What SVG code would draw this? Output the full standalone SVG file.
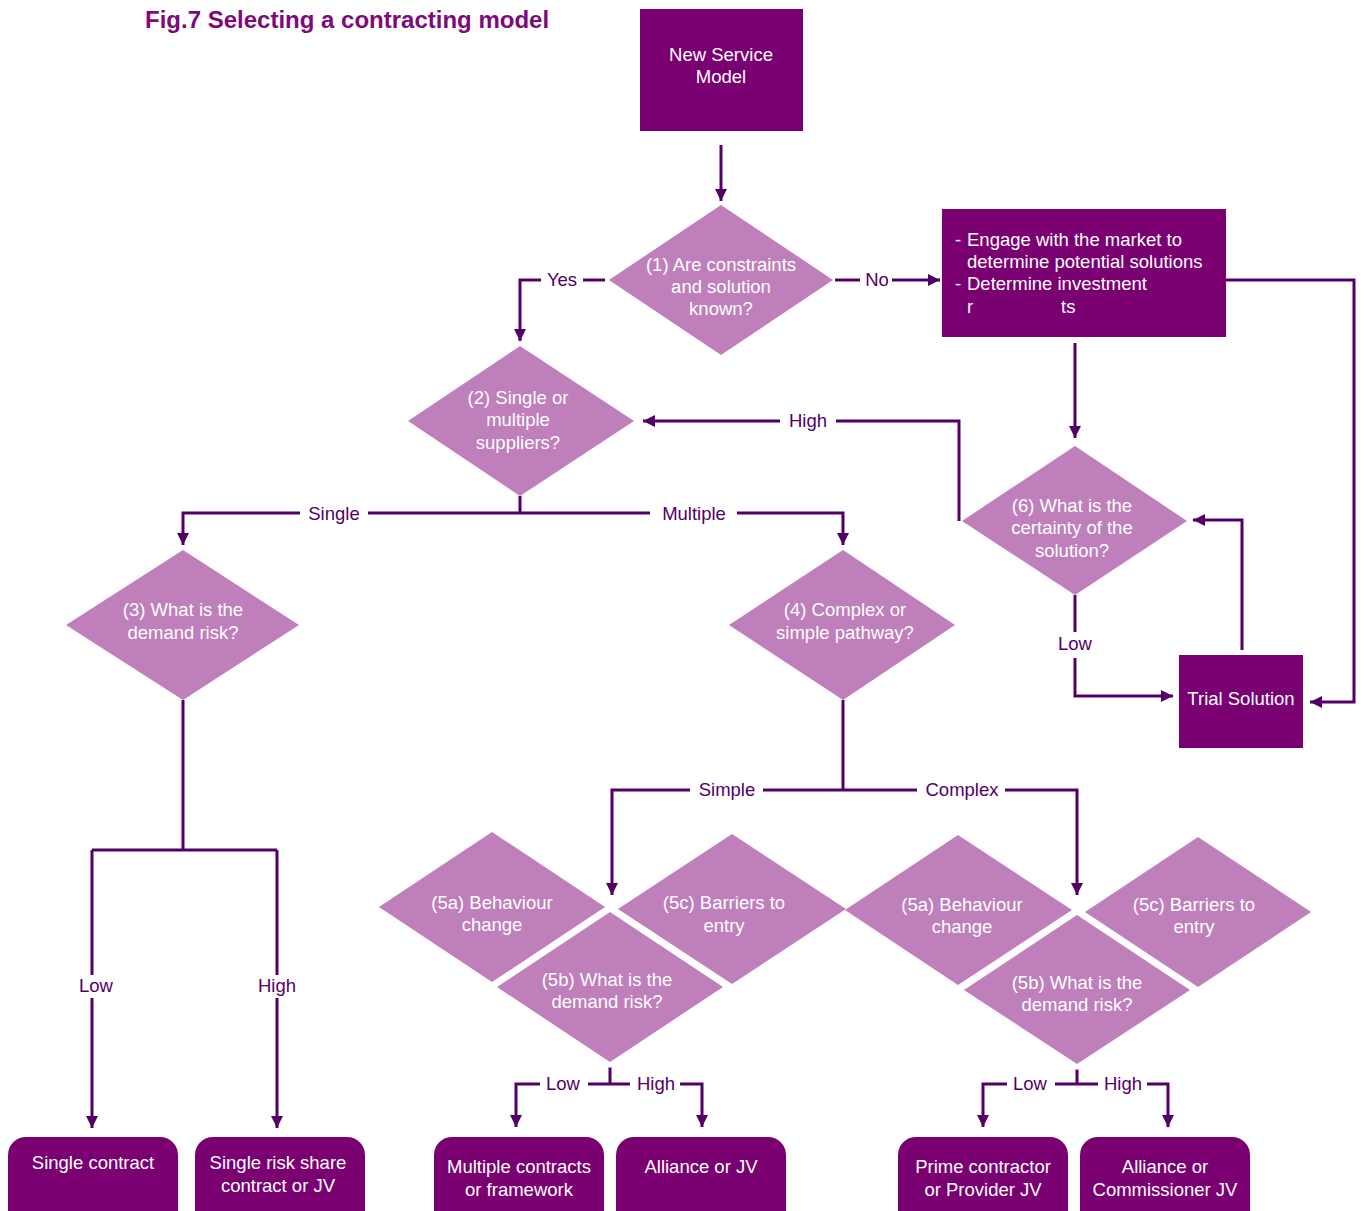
<svg xmlns="http://www.w3.org/2000/svg" width="1364" height="1211" viewBox="0 0 1364 1211">
  <style>
    text { font-family: "Liberation Sans", Arial, sans-serif; font-size: 18.5px; }
    .title { font-size: 24px; font-weight: bold; fill: #7D0A78; }
    .box { fill: #7A0072; }
    .dia { fill: #BE7FBA; }
    .dia-front { fill: #BE7FBA; stroke: #FFFFFF; stroke-width: 10; paint-order: stroke; stroke-linejoin: miter; }
    .wt { fill: #FFFFFF; text-anchor: middle; }
    .wl { fill: #FFFFFF; }
    .lbl { fill: #520066; text-anchor: middle; }
    .ln { fill: none; stroke: #520066; stroke-width: 3; }
    .arr { fill: none; stroke: #520066; stroke-width: 3; marker-end: url(#head); }
  </style>
  <defs>
    <marker id="head" viewBox="0 0 10 10" refX="10" refY="5" markerWidth="15" markerHeight="12" markerUnits="userSpaceOnUse" orient="auto">
      <path d="M0,0 L10,5 L0,10 z" fill="#520066"/>
    </marker>
  </defs>

  <rect width="1364" height="1211" fill="#FFFFFF"/>

  <text class="title" x="145" y="28">Fig.7 Selecting a contracting model</text>

  <!-- connectors -->
  <g id="connectors">
    <path class="arr" d="M721,145 V201"/>
    <!-- Yes / No from question 1 -->
    <path class="ln" d="M605,280 H583"/>
    <path class="arr" d="M541,280 H520 V341"/>
    <path class="ln" d="M835,280 H860"/>
    <path class="arr" d="M892,280 H940"/>
    <!-- market engagement box -->
    <path class="arr" d="M1075,343 V438"/>
    <path class="arr" d="M1226,280 H1354 V702 H1310"/>
    <!-- certainty question -->
    <path class="ln" d="M959,521 V421 H836"/>
    <path class="arr" d="M780,421 H643"/>
    <path class="ln" d="M1075,595 V632"/>
    <path class="arr" d="M1075,658 V696 H1173"/>
    <path class="arr" d="M1242,650 V520 H1193"/>
    <!-- single / multiple -->
    <path class="ln" d="M520,496 V513"/>
    <path class="arr" d="M300,513 H183 V545"/>
    <path class="ln" d="M368,513 H650"/>
    <path class="arr" d="M737,513 H843 V545"/>
    <!-- demand risk (3) -->
    <path class="ln" d="M183,700 V850 M92,850 H277"/>
    <path class="ln" d="M92,850 V975"/>
    <path class="arr" d="M92,998 V1128"/>
    <path class="ln" d="M277,850 V975"/>
    <path class="arr" d="M277,998 V1128"/>
    <!-- simple / complex -->
    <path class="ln" d="M843,700 V790"/>
    <path class="arr" d="M690,790 H612 V895"/>
    <path class="ln" d="M763,790 H917"/>
    <path class="arr" d="M1005,790 H1077 V895"/>
    <!-- simple pathway outcomes -->
    <path class="ln" d="M610,1062 V1084"/>
    <path class="arr" d="M540,1084 H516 V1127"/>
    <path class="ln" d="M588,1084 H630"/>
    <path class="arr" d="M680,1084 H702 V1127"/>
    <!-- complex pathway outcomes -->
    <path class="ln" d="M1077,1063 V1084"/>
    <path class="arr" d="M1007,1084 H983 V1127"/>
    <path class="ln" d="M1055,1084 H1098"/>
    <path class="arr" d="M1147,1084 H1168 V1127"/>

    <text class="lbl" x="562" y="286">Yes</text>
    <text class="lbl" x="877" y="286">No</text>
    <text class="lbl" x="808" y="427">High</text>
    <text class="lbl" x="1075" y="650">Low</text>
    <text class="lbl" x="334" y="520">Single</text>
    <text class="lbl" x="694" y="520">Multiple</text>
    <text class="lbl" x="96" y="992">Low</text>
    <text class="lbl" x="277" y="992">High</text>
    <text class="lbl" x="727" y="796">Simple</text>
    <text class="lbl" x="962" y="796">Complex</text>
    <text class="lbl" x="563" y="1090">Low</text>
    <text class="lbl" x="656" y="1090">High</text>
    <text class="lbl" x="1030" y="1090">Low</text>
    <text class="lbl" x="1123" y="1090">High</text>
  </g>

  <!-- start box -->
  <g id="new-service-model">
    <rect class="box" x="640" y="9" width="163" height="122"/>
    <text class="wt" x="721" y="61">New Service</text>
    <text class="wt" x="721" y="83">Model</text>
  </g>

  <g id="q1-constraints">
    <polygon class="dia" points="721,205 833,280 721,355 609,280"/>
    <text class="wt" x="721" y="271">(1) Are constraints</text>
    <text class="wt" x="721" y="293">and solution</text>
    <text class="wt" x="721" y="315">known?</text>
  </g>

  <g id="engage-market">
    <rect class="box" x="942" y="209" width="284" height="128"/>
    <text class="wl" y="246"><tspan x="955">-</tspan><tspan x="967">Engage with the market to</tspan></text>
    <text class="wl" x="967" y="268">determine potential solutions</text>
    <text class="wl" y="290"><tspan x="955">-</tspan><tspan x="967">Determine investment</tspan></text>
    <text class="wl" y="313"><tspan x="967">r</tspan><tspan x="1061">ts</tspan></text>
  </g>

  <g id="q2-suppliers">
    <polygon class="dia" points="520,346 634,421 520,496 408,421"/>
    <text class="wt" x="518" y="404">(2) Single or</text>
    <text class="wt" x="518" y="426">multiple</text>
    <text class="wt" x="518" y="449">suppliers?</text>
  </g>

  <g id="q6-certainty">
    <polygon class="dia" points="1075,446 1187,521 1075,595 962,521"/>
    <text class="wt" x="1072" y="512">(6) What is the</text>
    <text class="wt" x="1072" y="534">certainty of the</text>
    <text class="wt" x="1072" y="557">solution?</text>
  </g>

  <g id="trial-solution">
    <rect class="box" x="1179" y="655" width="124" height="93"/>
    <text class="wt" x="1241" y="705">Trial Solution</text>
  </g>

  <g id="q3-demand-risk">
    <polygon class="dia" points="183,550 299,625 183,700 66,625"/>
    <text class="wt" x="183" y="616">(3) What is the</text>
    <text class="wt" x="183" y="639">demand risk?</text>
  </g>

  <g id="q4-pathway">
    <polygon class="dia" points="843,550 955,625 843,700 729,625"/>
    <text class="wt" x="845" y="616">(4) Complex or</text>
    <text class="wt" x="845" y="639">simple pathway?</text>
  </g>

  <!-- simple pathway criteria -->
  <g id="simple-5a">
    <polygon class="dia" points="492,832 605,907 492,982 379,907"/>
    <text class="wt" x="492" y="909">(5a) Behaviour</text>
    <text class="wt" x="492" y="931">change</text>
  </g>
  <g id="simple-5c">
    <polygon class="dia" points="732,834 846,909 732,984 618,909"/>
    <text class="wt" x="724" y="909">(5c) Barriers to</text>
    <text class="wt" x="724" y="932">entry</text>
  </g>
  <g id="simple-5b">
    <polygon class="dia-front" points="610,912 723,987 610,1062 497,987"/>
    <text class="wt" x="607" y="986">(5b) What is the</text>
    <text class="wt" x="607" y="1008">demand risk?</text>
  </g>

  <!-- complex pathway criteria -->
  <g id="complex-5a">
    <polygon class="dia" points="958,835 1072,910 958,985 845,910"/>
    <text class="wt" x="962" y="911">(5a) Behaviour</text>
    <text class="wt" x="962" y="933">change</text>
  </g>
  <g id="complex-5c">
    <polygon class="dia" points="1198,837 1311,912 1198,987 1085,912"/>
    <text class="wt" x="1194" y="911">(5c) Barriers to</text>
    <text class="wt" x="1194" y="933">entry</text>
  </g>
  <g id="complex-5b">
    <polygon class="dia-front" points="1077,915 1190,990 1077,1064 964,990"/>
    <text class="wt" x="1077" y="989">(5b) What is the</text>
    <text class="wt" x="1077" y="1011">demand risk?</text>
  </g>

  <!-- contracting models -->
  <g id="single-contract">
    <rect class="box" x="8" y="1137" width="170" height="110" rx="18"/>
    <text class="wt" x="93" y="1169">Single contract</text>
  </g>
  <g id="single-risk-share">
    <rect class="box" x="195" y="1137" width="170" height="110" rx="18"/>
    <text class="wt" x="278" y="1169">Single risk share</text>
    <text class="wt" x="278" y="1192">contract or JV</text>
  </g>
  <g id="multiple-contracts">
    <rect class="box" x="434" y="1137" width="170" height="110" rx="18"/>
    <text class="wt" x="519" y="1173">Multiple contracts</text>
    <text class="wt" x="519" y="1196">or framework</text>
  </g>
  <g id="alliance-jv">
    <rect class="box" x="616" y="1137" width="170" height="110" rx="18"/>
    <text class="wt" x="701" y="1173">Alliance or JV</text>
  </g>
  <g id="prime-contractor">
    <rect class="box" x="898" y="1137" width="170" height="110" rx="18"/>
    <text class="wt" x="983" y="1173">Prime contractor</text>
    <text class="wt" x="983" y="1196">or Provider JV</text>
  </g>
  <g id="alliance-commissioner">
    <rect class="box" x="1080" y="1137" width="170" height="110" rx="18"/>
    <text class="wt" x="1165" y="1173">Alliance or</text>
    <text class="wt" x="1165" y="1196">Commissioner JV</text>
  </g>
</svg>
